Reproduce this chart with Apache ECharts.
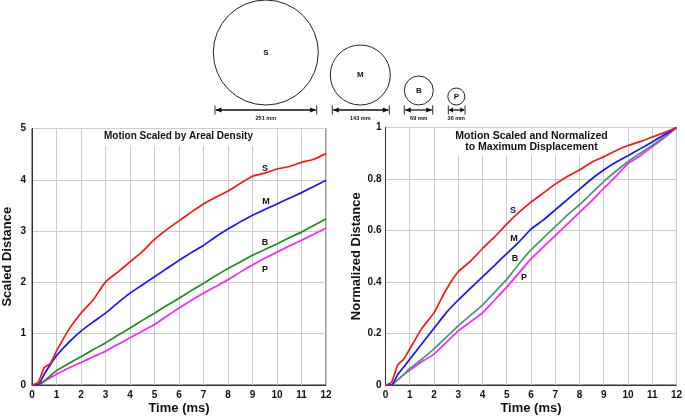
<!DOCTYPE html>
<html><head><meta charset="utf-8">
<script src="https://cdn.jsdelivr.net/npm/echarts@6/dist/echarts.min.js"></script>
<style>html,body{margin:0;padding:0;background:#fff}#c{width:685px;height:420px}</style>
</head><body><div id="c"></div>
<script>
// ---------- data ----------
const times = [0,0.25,0.5,0.75,1,1.5,2,2.5,3,3.5,4,4.5,5,5.5,6,6.5,7,7.5,8,8.5,9,9.5,10,10.5,11,11.5,12];
// Left panel: motion scaled by areal density
const scaledS = [0,0.05,0.34,0.42,0.66,1.08,1.40,1.66,2.01,2.20,2.40,2.60,2.84,3.03,3.20,3.37,3.53,3.66,3.78,3.93,4.07,4.13,4.21,4.26,4.34,4.40,4.51];
const scaledM = [0,0.00,0.21,0.40,0.57,0.83,1.05,1.23,1.40,1.60,1.79,1.95,2.11,2.27,2.43,2.58,2.72,2.89,3.04,3.18,3.31,3.42,3.53,3.64,3.75,3.87,3.99];
const scaledB = [0,0.00,0.08,0.18,0.28,0.42,0.55,0.69,0.82,0.97,1.11,1.26,1.40,1.55,1.69,1.84,1.98,2.13,2.27,2.40,2.53,2.64,2.75,2.87,2.98,3.11,3.24];
const scaledP = [0,0.00,0.07,0.14,0.21,0.33,0.44,0.55,0.66,0.79,0.92,1.05,1.18,1.34,1.50,1.65,1.79,1.92,2.05,2.20,2.34,2.47,2.59,2.71,2.82,2.94,3.06];
// Right panel: scaled and normalized to maximum displacement
const normS = [0,0.01,0.077,0.10,0.14,0.22,0.28,0.37,0.44,0.48,0.53,0.575,0.625,0.67,0.71,0.745,0.78,0.81,0.835,0.865,0.886,0.91,0.93,0.945,0.963,0.98,1.0];
const normM = [0,0.00,0.04,0.07,0.10,0.16,0.22,0.28,0.33,0.375,0.42,0.465,0.51,0.555,0.605,0.64,0.68,0.72,0.76,0.80,0.835,0.865,0.89,0.917,0.944,0.972,1.0];
const normB = [0,0.00,0.02,0.04,0.064,0.10,0.14,0.185,0.23,0.27,0.31,0.36,0.41,0.47,0.525,0.57,0.615,0.66,0.70,0.745,0.79,0.83,0.867,0.90,0.93,0.965,1.0];
const normP = [0,0.00,0.02,0.04,0.057,0.09,0.12,0.165,0.21,0.245,0.28,0.33,0.38,0.435,0.49,0.535,0.58,0.625,0.67,0.715,0.764,0.81,0.86,0.89,0.925,0.96,1.0];
const seriesNames = ['S','M','B','P'];
const diameters = ['251 mm','143 mm','69 mm','36 mm'];
const leftTitle = 'Motion Scaled by Areal Density';
const rightTitle = 'Motion Scaled and Normalized\nto Maximum Displacement';
const xName = 'Time (ms)';
const leftYName = 'Scaled Distance';
const rightYName = 'Normalized Distance';

// ---------- chart ----------
const FONT = '"Liberation Sans", Arial, Helvetica, sans-serif';
const chart = echarts.init(document.getElementById('c'), null, {renderer:'canvas'});
const pair = arr => times.map((t,i)=>[t, arr[i]]);

const colorsL = ['#ff1414','#1414ff','#1f8a1f','#ff22ff'];
const colorsR = ['#ff1414','#1414ff','#3c9c6e','#ff22ff'];
const leftData = [scaledS, scaledM, scaledB, scaledP];
const rightData = [normS, normM, normB, normP];

function mkSeries(dataArr, colors, idx){
  return dataArr.map((d,i)=>({
    name: seriesNames[i] + idx, type:'line', xAxisIndex: idx, yAxisIndex: idx,
    data: pair(d), showSymbol:false, symbol:'none', smooth:0.15,
    lineStyle:{color: colors[i], width:1.7}, z: 6 - i, animation:false
  }));
}

function xAx(gi){
  return {gridIndex:gi, type:'value', min:0, max:12, interval:1,
    axisLine:{show:true, lineStyle:{color:'#333', width:1}}, axisTick:{show:false},
    axisLabel:{fontFamily:FONT, fontWeight:'bold', fontSize:10, color:'#111', margin:5},
    splitLine:{show:true, lineStyle:{color:'#cccccc', width:1}},
    name:xName, nameLocation:'middle', nameGap:17, nameMoveOverlap:false,
    nameTextStyle:{fontFamily:FONT, fontWeight:'bold', fontSize:13, color:'#111', verticalAlign:'top'}};
}
function yAx(gi, max, interval, name, gap, margin){
  return {gridIndex:gi, type:'value', min:0, max:max, interval:interval,
    axisLine:{show:true, lineStyle:{color:'#333', width:1}}, axisTick:{show:false},
    axisLabel:{fontFamily:FONT, fontWeight:'bold', fontSize:10, color:'#111', margin:margin,
      formatter: v => String(+v.toFixed(1))},
    splitLine:{show:true, lineStyle:{color:'#cccccc', width:1}},
    name:name, nameLocation:'middle', nameGap:gap, nameMoveOverlap:false,
    nameTextStyle:{fontFamily:FONT, fontWeight:'bold', fontSize:13, color:'#111'}};
}

// top illustration (circles + dimension arrows)
const circles = [
  {cx:265.8, cy:52.5, r:52.5, x1:215, x2:316.7},
  {cx:360.3, cy:75, r:30, x1:332.3, x2:389.3},
  {cx:418.8, cy:90.5, r:14.5, x1:404.3, x2:432.7},
  {cx:456.3, cy:96.5, r:8.5, x1:448.3, x2:465}
];
const gfx = [];
circles.forEach((c,i)=>{
  gfx.push({type:'circle', shape:{cx:c.cx, cy:c.cy, r:c.r}, style:{fill:'none', stroke:'#222', lineWidth:1}, silent:true});
  gfx.push({type:'text', x:c.cx, y:c.cy, style:{text:seriesNames[i], font:'bold 8px '+FONT, fill:'#111', align:'center', verticalAlign:'middle'}, silent:true});
  const y = 110, ah = Math.min(6, (c.x2-c.x1)/4), aw = 2.6;
  gfx.push({type:'line', shape:{x1:c.x1+1, y1:y, x2:c.x2-1, y2:y}, style:{stroke:'#111', lineWidth:1.3}, silent:true});
  gfx.push({type:'line', shape:{x1:c.x1, y1:105.5, x2:c.x1, y2:114.5}, style:{stroke:'#111', lineWidth:0.9}, silent:true});
  gfx.push({type:'line', shape:{x1:c.x2, y1:105.5, x2:c.x2, y2:114.5}, style:{stroke:'#111', lineWidth:0.9}, silent:true});
  gfx.push({type:'polygon', shape:{points:[[c.x1+0.5,y],[c.x1+0.5+ah,y-aw],[c.x1+0.5+ah,y+aw]]}, style:{fill:'#111'}, silent:true});
  gfx.push({type:'polygon', shape:{points:[[c.x2-0.5,y],[c.x2-0.5-ah,y-aw],[c.x2-0.5-ah,y+aw]]}, style:{fill:'#111'}, silent:true});
  gfx.push({type:'text', x:c.cx, y:118.5, style:{text:diameters[i], font:'bold 5.5px '+FONT, fill:'#111', align:'center', verticalAlign:'middle'}, silent:true});
});
// panel titles (white box hides grid lines behind, but stays below the curves)
gfx.push({type:'text', x:178.5, y:129.5, z:1, style:{text:leftTitle, font:'bold 10px '+FONT, fill:'#111', align:'center', verticalAlign:'top', backgroundColor:'#fff', padding:[2,6,4,6]}, silent:true});
gfx.push({type:'text', x:531.5, y:129, z:1, style:{text:rightTitle, font:'bold 10.5px '+FONT, lineHeight:11, fill:'#111', align:'center', verticalAlign:'top', backgroundColor:'#fff', padding:[2,7,2,7]}, silent:true});
// curve labels
const lblL = [[265,169],[266,202],[265,243],[265,270]];
const lblR = [[513,211],[514,239],[515,259],[524,278]];
[lblL, lblR].forEach(arr=>arr.forEach((p,i)=>{
  gfx.push({type:'text', x:p[0], y:p[1], z:10, style:{text:seriesNames[i], font:'bold 9px '+FONT, fill:'#111', align:'center', verticalAlign:'middle'}, silent:true});
}));

chart.setOption({
  animation:false,
  backgroundColor:'#fff',
  grid:[
    {left:31, top:128.5, width:295, height:259, show:true, borderColor:'#333', borderWidth:1, backgroundColor:'transparent'},
    {left:385.5, top:127.5, width:293, height:259, show:true, borderColor:'#333', borderWidth:1, backgroundColor:'transparent'}
  ],
  xAxis:[xAx(0), xAx(1)],
  yAxis:[yAx(0,5,1,leftYName,18,6), yAx(1,1,0.2,rightYName,23,4)],
  series:[...mkSeries(leftData, colorsL, 0), ...mkSeries(rightData, colorsR, 1)],
  graphic: gfx
});
</script></body></html>
